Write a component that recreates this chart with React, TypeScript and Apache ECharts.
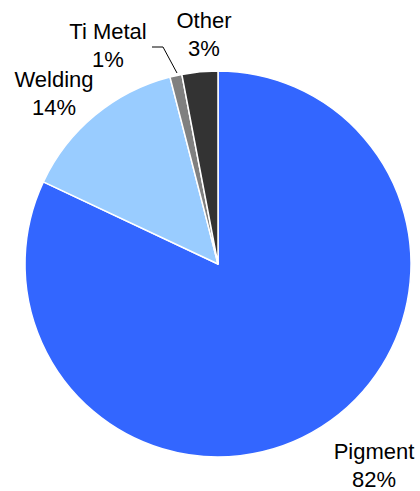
import React, { useEffect, useRef } from "react";
import * as echarts from "echarts";

const categories = ["Pigment", "Welding", "Ti Metal", "Other"];
const shares = [82, 14, 1, 3];
const colors = ["#3366FF", "#99CCFF", "#808080", "#333333"];
// label anchor points (layout only)
const labelPos: [number, number][] = [
  [374, 465],
  [54, 93],
  [108, 45],
  [204, 34],
];

export default function App() {
  const ref = useRef<HTMLDivElement>(null);
  useEffect(() => {
    if (!ref.current) return;
    const chart = echarts.init(ref.current, undefined, { renderer: "svg" });
    chart.setOption({
      animation: false,
      backgroundColor: "#ffffff",
      series: [
        {
          type: "pie",
          center: [218, 264],
          radius: 193,
          startAngle: 90,
          clockwise: true,
          avoidLabelOverlap: false,
          itemStyle: { borderColor: "#ffffff", borderWidth: 1.5 },
          label: {
            show: true,
            position: "outside",
            formatter: "{b}\n{c}%",
            fontFamily: "Liberation Sans, Arial, sans-serif",
            fontSize: 22,
            lineHeight: 28,
            color: "#000000",
            align: "center",
          },
          labelLine: { show: false },
          labelLayout: (params: any) => {
            const i = params.dataIndex;
            const [x, y] = labelPos[i];
            const res: any = { x, y, align: "center", verticalAlign: "middle" };
            if (categories[i] === "Ti Metal") {
              res.labelLinePoints = [
                [177, 73],
                [163, 47],
                [152, 47],
              ];
            }
            return res;
          },
          emphasis: { disabled: true },
          data: categories.map((name, i) => ({
            name,
            value: shares[i],
            itemStyle: { color: colors[i] },
            labelLine:
              name === "Ti Metal"
                ? { show: true, length: 10, length2: 10, lineStyle: { color: "#000000", width: 1 } }
                : { show: false },
          })),
        },
      ],
    });
    return () => chart.dispose();
  }, []);
  return (
    <div
      ref={ref}
      style={{ position: "fixed", left: 0, top: 0, width: 420, height: 491 }}
    />
  );
}
